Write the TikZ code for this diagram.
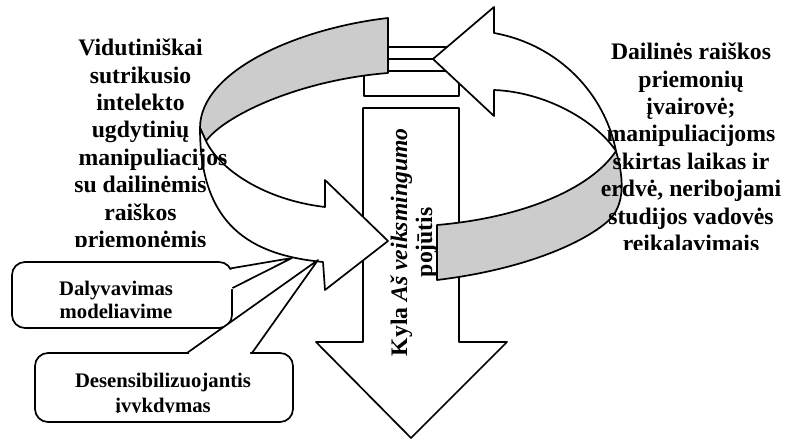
\documentclass[tikz,border=0pt]{standalone}
\usepackage{fontspec}
\setmainfont{Liberation Serif}
\definecolor{bandgrey}{RGB}{204,204,204}
\begin{document}
\begin{tikzpicture}[x=1pt, y=-1pt, line width=1.7pt, line join=round,
  outline/.style={draw=black, fill=white},
  backside/.style={draw=black, fill=bandgrey},
  maintext/.style={font=\fontsize{23.7}{27.4}\selectfont\bfseries, inner sep=0pt},
  calltext/.style={font=\fontsize{20.7}{24.5}\selectfont\bfseries, inner sep=0pt},
  callbox/.style={draw=black, fill=white, rounded corners=13pt, inner sep=0pt}]
\useasboundingbox (0,0) rectangle (788,441);

% short block under the upper ribbon
\draw[outline] (364,71) rectangle (459,96);

% large downward arrow
\draw[outline] (363,108) -- (459,108) -- (459,342) -- (507,342) -- (411,438)
  -- (316,342) -- (363,342) -- cycle;

% shaft of the upper ribbon with its seam
\draw[outline] (380,47) rectangle (452,71);
\draw (380,59) -- (433,59);

% right part of the ribbon with the left-pointing head
\draw[outline] (433,59) -- (494,7) -- (494,33)
  .. controls (560,45) and (605,95) .. (616,151)
  .. controls (595,120) and (545,92) .. (494,90)
  -- (494,116) -- cycle;

% back side of the ribbon, upper left
\draw[backside] (388,18) .. controls (300,28) and (200,70) .. (200,128)
  -- (206,141) .. controls (225,115) and (300,80) .. (388,73) -- cycle;

% front of the ribbon, lower left, with its head
\draw[outline] (200,128) .. controls (200,225) and (250,255) .. (323,262)
  -- (325,290) -- (388,241) -- (325,180) -- (325,207)
  .. controls (265,200) and (220,170) .. (206,141) -- cycle;

% back side of the ribbon, lower right
\draw[backside] (437,225) .. controls (520,218) and (590,190) .. (616,151)
  .. controls (623,175) and (627,205) .. (607,222)
  .. controls (580,245) and (520,270) .. (437,280) -- cycle;

% callout: Dalyvavimas modeliavime
\node[callbox, minimum width=220pt, minimum height=66pt] (C1) at (122,295) {};
\coordinate (C1tip) at (292,258);
\coordinate (C1a) at (230,268.5);
\coordinate (C1b) at (232.5,288);
\fill[white] (229,270) -- (C1tip) -- (233,289) -- (226,289) -- (225,271) -- cycle;
\draw (C1a) -- (C1tip) -- (C1b);
\node[calltext, anchor=base] (C1l1) at (116,295) {Dalyvavimas};
\node[calltext, anchor=base] (C1l2) at (116,318.5) {modeliavime};

% callout: Desensibilizuojantis įvykdymas
\node[callbox, minimum width=258pt, minimum height=69pt] (C2) at (164,387.5) {};
\coordinate (C2tip) at (318,260);
\coordinate (C2a) at (187,353);
\coordinate (C2b) at (252,353);
\fill[white] (189,352) -- (C2tip) -- (250,352) -- (250,356) -- (189,356) -- cycle;
\draw (C2a) -- (C2tip) -- (C2b);
\begin{scope}
  \clip (35,353) rectangle (293,412.8);
  \node[calltext, anchor=base] (C2l1) at (163,387) {Desensibilizuojantis};
  \node[calltext, anchor=base] (C2l2) at (163,412) {įvykdymas};
\end{scope}

% label on the downward arrow
\node[maintext, rotate=90, anchor=base west] (V1) at (407,357) {Kyla \textit{Aš veiksmingumo}};
\node[maintext, rotate=90, anchor=base west] (V2) at (432,278) {pojūtis};

% left label
\begin{scope}
  \clip (0,0) rectangle (330,246.5);
  \node[maintext, anchor=base] (L1) at (140.5,55.7) {Vidutiniškai};
  \node[maintext, anchor=base] (L2) at (140.5,83.1) {sutrikusio};
  \node[maintext, anchor=base] (L3) at (140.5,110.5) {intelekto};
  \node[maintext, anchor=base] (L4) at (140.5,137.9) {ugdytinių};
  \node[maintext, anchor=base] (L5) at (153,165.3) {manipuliacijos};
  \node[maintext, anchor=base] (L6) at (140.5,192.7) {su dailinėmis};
  \node[maintext, anchor=base] (L7) at (140.5,220.1) {raiškos};
  \node[maintext, anchor=base] (L8) at (140.5,247.5) {priemonėmis};
\end{scope}

% right label
\begin{scope}
  \clip (560,0) rectangle (788,249.5);
  \node[maintext, anchor=base] (R1) at (691,59.7) {Dailinės raiškos};
  \node[maintext, anchor=base] (R2) at (691,87.1) {priemonių};
  \node[maintext, anchor=base] (R3) at (691,114.5) {įvairovė;};
  \node[maintext, anchor=base] (R4) at (691,141.9) {manipuliacijoms};
  \node[maintext, anchor=base] (R5) at (691,169.3) {skirtas laikas ir};
  \node[maintext, anchor=base] (R6) at (691,196.7) {erdvė, neribojami};
  \node[maintext, anchor=base] (R7) at (691,224.1) {studijos vadovės};
  \node[maintext, anchor=base] (R8) at (691,251.5) {reikalavimais};
\end{scope}
\end{tikzpicture}
\end{document}
